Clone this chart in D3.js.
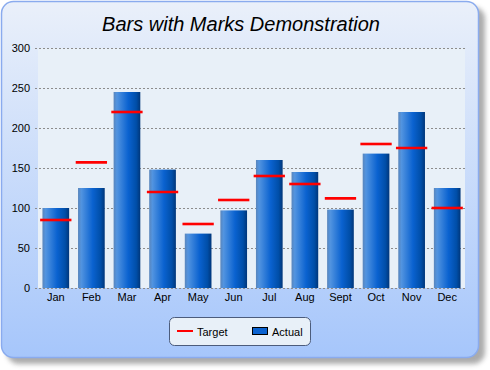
<!DOCTYPE html>
<html>
<head>
<meta charset="utf-8">
<script src="https://cdn.jsdelivr.net/npm/d3@7"></script>
<style>
  body { margin: 0; background: #fff; }
  svg text { font-family: "Liberation Sans", Arial, sans-serif; }
</style>
</head>
<body>
<div id="chart"></div>
<script>
// chart data
const months = ['Jan', 'Feb', 'Mar', 'Apr', 'May', 'Jun', 'Jul', 'Aug', 'Sept', 'Oct', 'Nov', 'Dec'];
const actual = [100, 125, 245, 148, 68, 97, 160, 145, 98, 168, 220, 125];
const target = [85, 157, 220, 120, 80, 110, 140, 130, 112, 180, 175, 100];
const yTicks = [0, 50, 100, 150, 200, 250, 300];

const W = 490, H = 370;
const plot = { left: 38, right: 465, top: 48, bottom: 288 };

const svg = d3.select('#chart').append('svg')
  .attr('width', W).attr('height', H);

const defs = svg.append('defs');

// background gradient of the frame
const bg = defs.append('linearGradient').attr('id', 'bg')
  .attr('x1', 0).attr('y1', 0).attr('x2', 0).attr('y2', 1);
bg.append('stop').attr('offset', '0%').attr('stop-color', '#eaf0fa');
bg.append('stop').attr('offset', '100%').attr('stop-color', '#a6c6fb');

// bar shading, left to right
const bar = defs.append('linearGradient').attr('id', 'bar')
  .attr('x1', 0).attr('y1', 0).attr('x2', 1).attr('y2', 0);
bar.append('stop').attr('offset', '0%').attr('stop-color', '#5a86bc');
bar.append('stop').attr('offset', '12%').attr('stop-color', '#5294e0');
bar.append('stop').attr('offset', '55%').attr('stop-color', '#0a62d0');
bar.append('stop').attr('offset', '85%').attr('stop-color', '#004ea8');
bar.append('stop').attr('offset', '100%').attr('stop-color', '#00367a');

const blur = defs.append('filter').attr('id', 'shadow')
  .attr('x', '-10%').attr('y', '-10%').attr('width', '120%').attr('height', '120%');
blur.append('feGaussianBlur').attr('stdDeviation', 2.5);

// frame with shadow
svg.append('rect')
  .attr('x', 7).attr('y', 7).attr('width', 478).attr('height', 357)
  .attr('rx', 12).attr('fill', '#888').attr('opacity', 0.7)
  .attr('filter', 'url(#shadow)');
svg.append('rect')
  .attr('x', 1.5).attr('y', 1.5).attr('width', 477).attr('height', 356)
  .attr('rx', 12).attr('fill', 'url(#bg)')
  .attr('stroke', '#8aabee').attr('stroke-width', 1.5);

// title
svg.append('text')
  .attr('x', 241).attr('y', 31)
  .attr('text-anchor', 'middle')
  .style('font-size', '20px').style('font-style', 'italic')
  .text('Bars with Marks Demonstration');

// scales
const x = d3.scaleBand().domain(months)
  .range([plot.left, plot.right]).paddingInner(0.25).paddingOuter(0.125);
const y = d3.scaleLinear().domain([0, 300]).range([plot.bottom, plot.top]);

svg.append('rect')
  .attr('x', plot.left).attr('y', plot.top)
  .attr('width', plot.right - plot.left).attr('height', plot.bottom - plot.top)
  .attr('fill', '#e8f0f8');

// grid lines
svg.append('g').selectAll('line')
  .data(yTicks)
  .enter().append('line')
  .attr('x1', plot.left - 3).attr('x2', plot.right)
  .attr('y1', d => y(d) + 0.5).attr('y2', d => y(d) + 0.5)
  .attr('stroke', '#8c8c8c').attr('stroke-dasharray', '2,2');

// y axis
const yAxis = svg.append('g')
  .attr('transform', `translate(${plot.left - 3},0)`)
  .call(d3.axisLeft(y).tickValues(yTicks).tickSize(0).tickPadding(5));
yAxis.select('.domain').remove();
yAxis.selectAll('text').style('font-size', '11px').attr('fill', '#000');

// x axis
const xAxis = svg.append('g')
  .attr('transform', `translate(0,${plot.bottom})`)
  .call(d3.axisBottom(x).tickSize(0).tickPadding(5));
xAxis.select('.domain').remove();
xAxis.selectAll('text').style('font-size', '11px').attr('fill', '#000');

// bars
svg.append('g').selectAll('rect')
  .data(actual)
  .enter().append('rect')
  .attr('x', (d, i) => x(months[i]))
  .attr('y', d => y(d))
  .attr('width', x.bandwidth())
  .attr('height', d => y(0) - y(d))
  .attr('fill', 'url(#bar)');

// target marks
const markW = x.step() * 0.88;
svg.append('g').selectAll('line')
  .data(target)
  .enter().append('line')
  .attr('x1', (d, i) => x(months[i]) + x.bandwidth() / 2 - markW / 2)
  .attr('x2', (d, i) => x(months[i]) + x.bandwidth() / 2 + markW / 2)
  .attr('y1', d => y(d)).attr('y2', d => y(d))
  .attr('stroke', '#ff0000').attr('stroke-width', 2.6);

// legend
const lg = svg.append('g');
lg.append('rect')
  .attr('x', 169.5).attr('y', 317.5).attr('width', 141).attr('height', 28)
  .attr('rx', 5).attr('fill', '#e8f0f8').attr('stroke', '#4c5c7c');
lg.append('line')
  .attr('x1', 177).attr('x2', 193).attr('y1', 331).attr('y2', 331)
  .attr('stroke', '#ff0000').attr('stroke-width', 2);
lg.append('text').attr('x', 197).attr('y', 335.5)
  .style('font-size', '11px').text('Target');
lg.append('rect')
  .attr('x', 252.5).attr('y', 327.5).attr('width', 15).attr('height', 7)
  .attr('fill', '#0a62d0').attr('stroke', '#000');
lg.append('text').attr('x', 272).attr('y', 335.5)
  .style('font-size', '11px').text('Actual');
</script>
</body>
</html>
